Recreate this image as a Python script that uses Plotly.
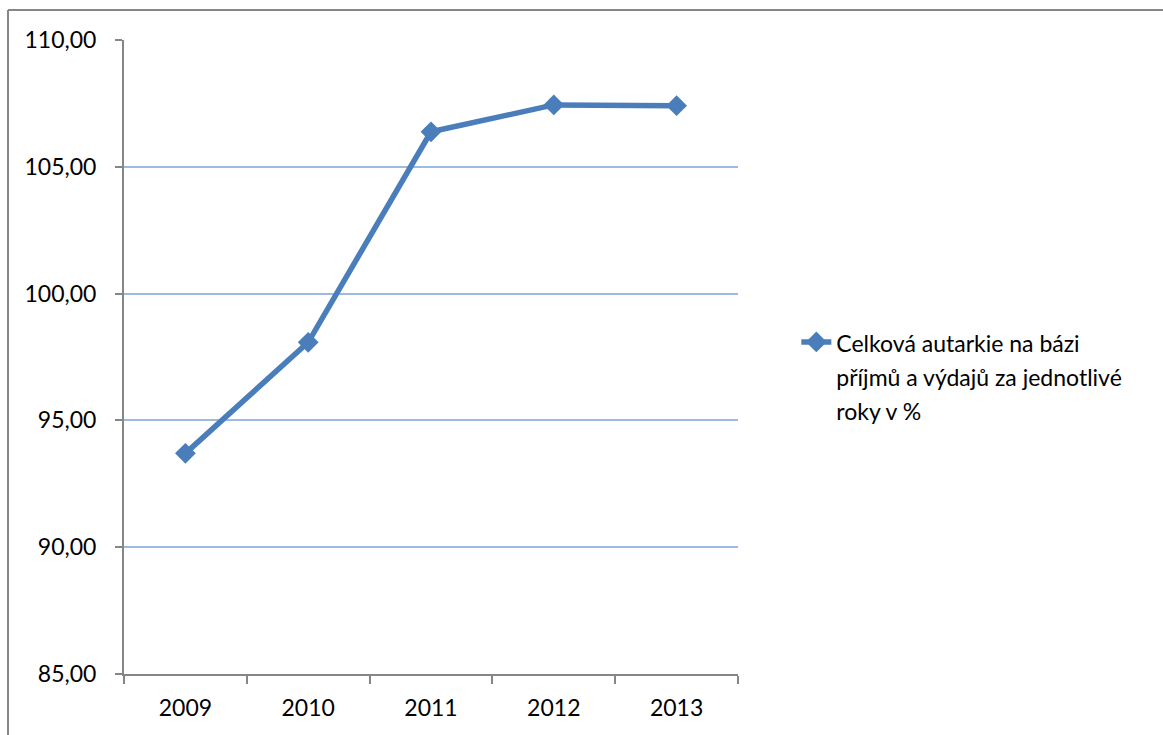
import plotly.graph_objects as go

years = ["2009", "2010", "2011", "2012", "2013"]
autarkie = [93.70, 98.08, 106.38, 107.44, 107.41]
series_name = "Celková autarkie na bázi<br>příjmů a výdajů za jednotlivé<br>roky v %"
y_ticks = [85, 90, 95, 100, 105, 110]

BLUE = "#4A7EBB"
AXIS = "#868686"
GRID = "#9DBAE3"
FONT = "Lato, Calibri, Noto Sans, sans-serif"

# legend label: line spacing from the outer font size, glyphs at 23px
legend_label = "<br>".join(
    f"<span style='font-size:23px'>{part}</span>" for part in series_name.split("<br>")
)

fig = go.Figure()
fig.add_trace(go.Scatter(
    x=years,
    y=autarkie,
    mode="lines+markers",
    name=legend_label,
    line=dict(color=BLUE, width=5.5),
    marker=dict(symbol="diamond", size=16, color=BLUE),
))

# chart frame (left and top edges)
fig.add_shape(type="line", xref="paper", yref="paper",
              x0=-0.1889, x1=-0.1889, y0=1.0473, y1=-0.2,
              line=dict(color=AXIS, width=2))
fig.add_shape(type="line", xref="paper", yref="paper",
              x0=-0.1889, x1=1.8, y0=1.0473, y1=1.0473,
              line=dict(color=AXIS, width=2))

fig.update_layout(
    width=1163, height=735,
    margin=dict(l=124, r=425, t=40, b=61),
    paper_bgcolor="white", plot_bgcolor="white",
    separators=", ",
    font=dict(family=FONT, size=23, color="black"),
    showlegend=True,
    legend=dict(
        x=1.095, y=0.47, xanchor="left", yanchor="middle",
        valign="top",
        font=dict(family=FONT, size=26, color="black"),
        bgcolor="rgba(0,0,0,0)",
        itemwidth=30,
    ),
    xaxis=dict(
        type="category",
        range=[-0.5, 4.5],
        showline=True, linecolor=AXIS, linewidth=2,
        ticks="outside", ticklen=8, tickcolor=AXIS, tickwidth=2,
        tickson="boundaries",
        showgrid=False, zeroline=False,
        ticklabelstandoff=12,
        tickfont=dict(family=FONT, size=23, color="black"),
    ),
    yaxis=dict(
        range=[85, 110],
        tickvals=y_ticks,
        tickformat=".2f",
        showline=True, linecolor=AXIS, linewidth=2,
        ticks="outside", ticklen=7, tickcolor=AXIS, tickwidth=2,
        showgrid=True, gridcolor=GRID, gridwidth=1.5,
        zeroline=False,
        ticklabelstandoff=14,
        tickfont=dict(family=FONT, size=23, color="black"),
    ),
)

fig.write_html("out.html")
